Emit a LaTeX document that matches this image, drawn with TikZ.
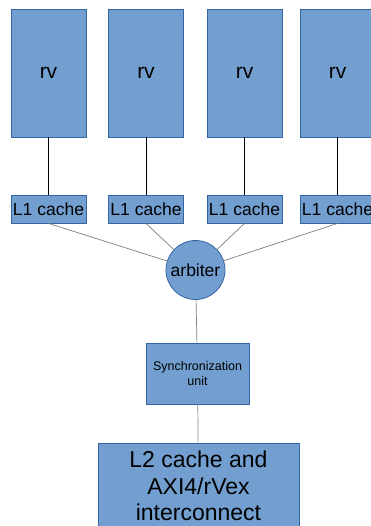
\documentclass[tikz,border=0pt]{standalone}
\usepackage{fontspec}
\setmainfont{Liberation Sans}
\usetikzlibrary{positioning}
\definecolor{cfill}{HTML}{729FCF}
\definecolor{cedge}{HTML}{3465A4}
\definecolor{cline}{HTML}{808080}
\tikzset{
  every picture/.style={x=1pt, y=1pt, line width=0.8pt},
  block/.style={draw=cedge, fill=cfill, inner sep=1pt, align=center, text=black},
  core/.style={block, minimum width=75pt, minimum height=128pt, font=\fontsize{21}{25}\selectfont},
  cache/.style={block, minimum width=75pt, minimum height=28pt, font=\fontsize{17.5}{21}\selectfont},
  wire/.style={draw=black, line width=0.7pt},
  link/.style={draw=cline, line width=0.7pt},
}

\begin{document}
\begin{tikzpicture}
  \clip (0,0) rectangle (371,526);
  \fill[white] (0,0) rectangle (371,526);
  % cores and their caches
  \foreach \i/\x in {1/48.5, 2/146, 3/244.5, 4/337.5} {
    \node[core] (rv\i) at (\x,453) {rv};
    \node[cache] (l1\i) at (\x,317) {L1 cache};
    \draw[wire] (rv\i.south) -- (l1\i.north);
  }
  \node[block, circle, minimum size=59pt, inner sep=0pt, font=\fontsize{17.5}{21}\selectfont] (arb) at (195.5,256) {arbiter};
  \foreach \i in {1,...,4} \draw[link] (l1\i.south) -- (arb);
  \node[block, minimum width=103pt, minimum height=61pt, font=\fontsize{12.5}{15}\selectfont] (sync) at (197.5,152.5) {Synchronization\\unit};
  \node[block, minimum width=201pt, minimum height=86pt, inner sep=2pt, font=\fontsize{23}{26.5}\selectfont] (l2) at (198.5,40) {L2 cache and\\AXI4/rVex\\interconnect};
  \draw[link] (arb) -- (sync);
  \draw[link] (sync) -- (l2);
\end{tikzpicture}
\end{document}
